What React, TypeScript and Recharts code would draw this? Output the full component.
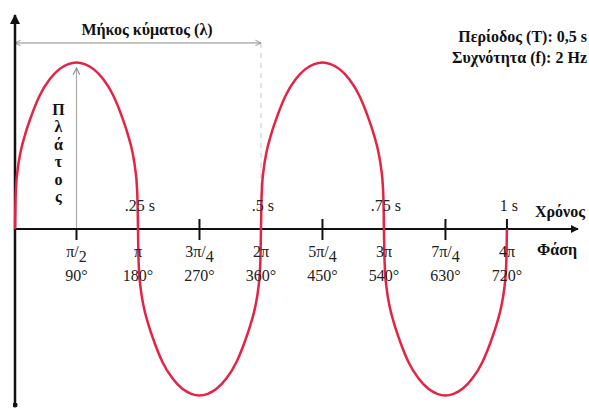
import { ComposedChart, Line, XAxis, YAxis, ReferenceLine, ReferenceDot } from "recharts";

// phase in degrees, amplitude (peak = 1)
const phase = [
  0, 0.6, 1.5, 4, 8, 15, 24, 36, 51, 65, 78, 90, 102, 115, 129, 144, 156, 165, 172, 176, 178.5, 179.4, 180,
  180.6, 181.5, 184, 188, 195, 204, 216, 231, 245, 258, 270, 282, 295, 309, 324, 336, 345, 352, 356, 358.5, 359.4, 360,
  360.6, 361.5, 364, 368, 375, 384, 396, 411, 425, 438, 450, 462, 475, 489, 504, 516, 525, 532, 536, 538.5, 539.4, 540,
  540.6, 541.5, 544, 548, 555, 564, 576, 591, 605, 618, 630, 642, 655, 669, 684, 696, 705, 712, 716, 718.5, 719.4, 720,
];
const amplitude = [
  0, 0.15, 0.25, 0.36, 0.46, 0.57, 0.68, 0.8, 0.9, 0.96, 0.99, 1.0, 0.99, 0.96, 0.9, 0.8, 0.68, 0.57, 0.46, 0.36, 0.25, 0.15, 0,
  -0.15, -0.25, -0.36, -0.46, -0.57, -0.68, -0.8, -0.9, -0.96, -0.99, -1.0, -0.99, -0.96, -0.9, -0.8, -0.68, -0.57, -0.46, -0.36, -0.25, -0.15, 0,
  0.15, 0.25, 0.36, 0.46, 0.57, 0.68, 0.8, 0.9, 0.96, 0.99, 1.0, 0.99, 0.96, 0.9, 0.8, 0.68, 0.57, 0.46, 0.36, 0.25, 0.15, 0,
  -0.15, -0.25, -0.36, -0.46, -0.57, -0.68, -0.8, -0.9, -0.96, -0.99, -1.0, -0.99, -0.96, -0.9, -0.8, -0.68, -0.57, -0.46, -0.36, -0.25, -0.15, 0,
];

const phaseTicks = [90, 180, 270, 360, 450, 540, 630, 720];
const piLabels = [
  ["π/", "2"], ["π", ""], ["3π/", "4"], ["2π", ""],
  ["5π/", "4"], ["3π", ""], ["7π/", "4"], ["4π", ""],
];
const degreeLabels = ["90°", "180°", "270°", "360°", "450°", "540°", "630°", "720°"];

const timeTicks = [180, 360, 540, 720];
const timeLabels = [".25 s", ".5 s", ".75 s", "1 s"];

const wavelength = [0, 360];
const wavelengthLevel = 1.117;
const amplitudeArrow = [0, 0.967];

const wave = phase.map((p, i) => ({ phase: p, amp: amplitude[i] }));

const SERIF = "'Liberation Serif', 'Times New Roman', serif";

const arrowLine = (stroke: string, width: number, start?: string, end?: string, dash?: string) => (p: any) => (
  <line
    x1={p.x1}
    y1={p.y1}
    x2={p.x2}
    y2={p.y2}
    stroke={stroke}
    strokeWidth={width}
    strokeDasharray={dash}
    markerStart={start ? `url(#${start})` : undefined}
    markerEnd={end ? `url(#${end})` : undefined}
  />
);

export default function App() {
  return (
    <div style={{ position: "absolute", left: 0, top: 0, background: "#fff" }}>
      <ComposedChart width={589} height={408} data={wave} margin={{ top: 15, right: 11, bottom: 3, left: 15 }}>
        <defs>
          <marker id="headBlack" viewBox="0 0 10 10" refX="9" refY="5" markerWidth="4" markerHeight="4" orient="auto-start-reverse" markerUnits="strokeWidth">
            <path d="M0,0 L10,5 L0,10 z" fill="#111" />
          </marker>
          <marker id="dotBlack" viewBox="0 0 10 10" refX="5" refY="5" markerWidth="2" markerHeight="2" markerUnits="strokeWidth">
            <circle cx="5" cy="5" r="5" fill="#111" />
          </marker>
          <marker id="headGrey" viewBox="0 0 10 10" refX="9" refY="5" markerWidth="7" markerHeight="7" orient="auto-start-reverse" markerUnits="strokeWidth">
            <path d="M1,1 L9,5 L1,9" fill="none" stroke="#888" strokeWidth="1.2" />
          </marker>
        </defs>
        <XAxis type="number" dataKey="phase" domain={[0, 824]} hide />
        <YAxis type="number" domain={[-1.057, 1.285]} hide />

        {/* wavelength arrow and dashed guide */}
        <ReferenceLine
          segment={[{ x: wavelength[1], y: wavelengthLevel }, { x: wavelength[1], y: 0 }]}
          ifOverflow="visible"
          shape={arrowLine("#c8c8c8", 1, undefined, undefined, "5 5")}
        />
        <ReferenceLine
          segment={[{ x: wavelength[0], y: wavelengthLevel }, { x: wavelength[1], y: wavelengthLevel }]}
          ifOverflow="visible"
          shape={arrowLine("#888", 1, "headGrey", "headGrey")}
        />
        <ReferenceDot
          x={(wavelength[0] + wavelength[1]) / 2}
          y={wavelengthLevel}
          r={0}
          ifOverflow="visible"
          shape={(p: any) => (
            <text x={p.cx + 9} y={p.cy - 8} textAnchor="middle" fontFamily={SERIF} fontSize={16} fontWeight="bold" fill="#111">
              Μήκος κύματος (λ)
            </text>
          )}
        />

        {/* amplitude arrow */}
        <ReferenceLine
          segment={[{ x: 90, y: amplitudeArrow[0] }, { x: 90, y: amplitudeArrow[1] }]}
          ifOverflow="visible"
          shape={arrowLine("#aaa", 1.2, undefined, "headGrey")}
        />
        <ReferenceDot
          x={90}
          y={0.685}
          r={0}
          ifOverflow="visible"
          shape={(p: any) => (
            <text x={p.cx - 18} y={p.cy} textAnchor="middle" fontFamily={SERIF} fontSize={16} fontWeight="bold" fill="#111">
              {["Π", "λ", "ά", "τ", "ο", "ς"].map((c, i) => (
                <tspan key={i} x={p.cx - 18} dy={i === 0 ? 0 : 17.4}>
                  {c}
                </tspan>
              ))}
            </text>
          )}
        />

        {/* axes */}
        <ReferenceLine
          segment={[{ x: 0, y: -1.057 }, { x: 0, y: 1.285 }]}
          ifOverflow="visible"
          shape={arrowLine("#111", 2.5, "dotBlack", "headBlack")}
        />
        <ReferenceLine
          segment={[{ x: 0, y: 0 }, { x: 824, y: 0 }]}
          ifOverflow="visible"
          shape={arrowLine("#111", 2, undefined, "headBlack")}
        />

        {phaseTicks.map((t, i) => (
          <ReferenceLine
            key={"tk" + t}
            segment={[{ x: t, y: i === 0 ? 0 : 0.06 }, { x: t, y: -0.066 }]}
            ifOverflow="visible"
            shape={arrowLine("#111", 2)}
          />
        ))}

        <Line
          type="monotone"
          dataKey="amp"
          stroke="#e62245"
          strokeWidth={2.5}
          dot={false}
          activeDot={false}
          isAnimationActive={false}
        />

        {phaseTicks.map((t, i) => (
          <ReferenceDot
            key={"lb" + t}
            x={t}
            y={0}
            r={0}
            ifOverflow="visible"
            shape={(p: any) => (
              <g fontFamily={SERIF} fontSize={16} fill="#222">
                <text x={p.cx} y={p.cy + 28} textAnchor="middle">
                  <tspan>{piLabels[i][0]}</tspan>
                  {piLabels[i][1] ? <tspan dy={5}>{piLabels[i][1]}</tspan> : null}
                </text>
                <text x={p.cx} y={p.cy + 52} textAnchor="middle">
                  {degreeLabels[i]}
                </text>
              </g>
            )}
          />
        ))}

        {timeTicks.map((t, i) => (
          <ReferenceDot
            key={"tm" + t}
            x={t}
            y={0}
            r={0}
            ifOverflow="visible"
            shape={(p: any) => (
              <text x={p.cx + 2} y={p.cy - 18} textAnchor="middle" fontFamily={SERIF} fontSize={16} fill="#222">
                {timeLabels[i]}
              </text>
            )}
          />
        ))}

        <text x={535} y={217} fontFamily={SERIF} fontSize={16} fontWeight="bold" fill="#111">
          Χρόνος
        </text>
        <text x={537} y={255} fontFamily={SERIF} fontSize={16} fontWeight="bold" fill="#111">
          Φάση
        </text>
        <text x={587} y={42} textAnchor="end" fontFamily={SERIF} fontSize={16} fontWeight="bold" fill="#111">
          Περίοδος (Τ): 0,5 s
        </text>
        <text x={587} y={63} textAnchor="end" fontFamily={SERIF} fontSize={16} fontWeight="bold" fill="#111">
          Συχνότητα (f): 2 Hz
        </text>
      </ComposedChart>
    </div>
  );
}
